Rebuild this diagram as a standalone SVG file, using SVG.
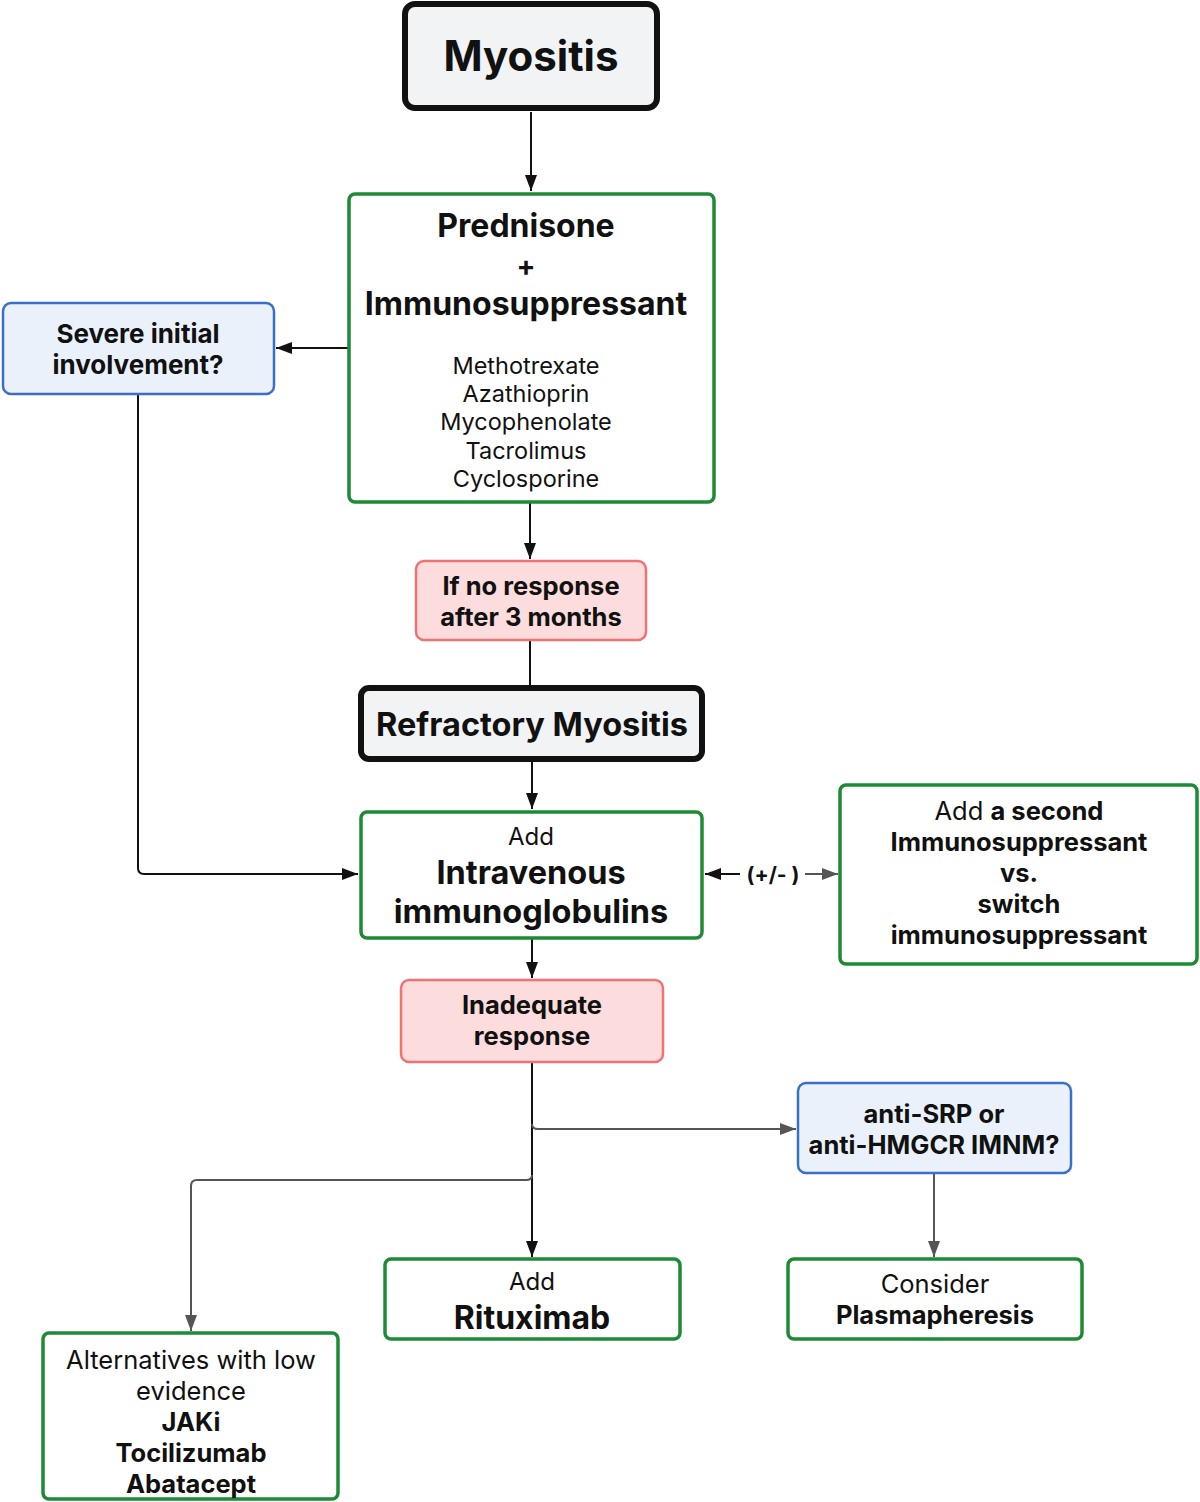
<svg xmlns="http://www.w3.org/2000/svg" width="1200" height="1502" viewBox="0 0 1200 1502">
<defs>
<style>
text{font-family:Inter,"Noto Sans","Liberation Sans",sans-serif;fill:#111;text-anchor:middle}
.b{font-weight:700}
.start{fill:#f2f3f5;stroke:#111;stroke-width:6}
.green{fill:#fff;stroke:#1e8a35;stroke-width:3.5}
.blue{fill:#eaf1fb;stroke:#3a6fc9;stroke-width:2.5}
.red{fill:#fcdcdc;stroke:#f07272;stroke-width:2.5}
.ln{fill:none;stroke:#111;stroke-width:2}
.gl{fill:none;stroke:#555;stroke-width:2}
</style>
<marker id="ahk" viewBox="0 0 16 12" refX="16" refY="6" markerWidth="16" markerHeight="12" markerUnits="userSpaceOnUse" orient="auto"><path d="M0,0L16,6L0,12z" fill="#111"/></marker>
<marker id="ahg" viewBox="0 0 16 12" refX="16" refY="6" markerWidth="16" markerHeight="12" markerUnits="userSpaceOnUse" orient="auto"><path d="M0,0L16,6L0,12z" fill="#555"/></marker>
</defs>
<rect width="1200" height="1502" fill="#fff"/>
<g id="connectors">
<path class="ln" d="M531,112V191" marker-end="url(#ahk)"/>
<path class="ln" d="M349,348H276" marker-end="url(#ahk)"/>
<path class="ln" d="M138,394V868Q138,874 144,874H358" marker-end="url(#ahk)"/>
<path class="ln" d="M530,503V559" marker-end="url(#ahk)"/>
<path class="ln" d="M530,641V687"/>
<path class="ln" d="M532,761V809" marker-end="url(#ahk)"/>
<path class="ln" d="M740,874H705" marker-end="url(#ahk)"/>
<path class="gl" d="M805,874H838" marker-end="url(#ahg)"/>
<path class="ln" d="M532,939V978" marker-end="url(#ahk)"/>
<path class="ln" d="M532,1063V1257" marker-end="url(#ahk)"/>
<path class="gl" d="M532,1124Q532,1129 538,1129H796" marker-end="url(#ahg)"/>
<path class="gl" d="M532,1175Q532,1180 526,1180H197Q191,1180 191,1186V1331" marker-end="url(#ahg)"/>
<path class="gl" d="M934,1174V1257" marker-end="url(#ahg)"/>
<text x="773" y="882" class="b" font-size="21">(+/- )</text>
</g>
<g id="myositis">
<rect class="start" x="405" y="4" width="252" height="104" rx="10"/>
<text x="531" y="71" class="b" font-size="42">Myositis</text>
</g>
<g id="prednisone">
<rect class="green" x="349" y="194" width="365" height="308" rx="6"/>
<text x="526" y="237" class="b" font-size="32">Prednisone</text>
<text x="526" y="276" class="b" font-size="28">+</text>
<text x="526" y="315" class="b" font-size="32">Immunosuppressant</text>
<text x="526" y="374" font-size="23.5">Methotrexate</text>
<text x="526" y="402" font-size="23.5">Azathioprin</text>
<text x="526" y="430" font-size="23.5">Mycophenolate</text>
<text x="526" y="459" font-size="23.5">Tacrolimus</text>
<text x="526" y="487" font-size="23.5">Cyclosporine</text>
</g>
<g id="severe">
<rect class="blue" x="3" y="303" width="271" height="91" rx="8"/>
<text x="138" y="343" class="b" font-size="26">Severe initial</text>
<text x="138" y="374" class="b" font-size="26">involvement?</text>
</g>
<g id="noresponse">
<rect class="red" x="416" y="561" width="230" height="79" rx="8"/>
<text x="531" y="595" class="b" font-size="25.5">If no response</text>
<text x="531" y="626" class="b" font-size="25.5">after 3 months</text>
</g>
<g id="refractory">
<rect class="start" x="361" y="688" width="341" height="71" rx="8"/>
<text x="532" y="736" class="b" font-size="32.5">Refractory Myositis</text>
</g>
<g id="ivig">
<rect class="green" x="361" y="812" width="341" height="126" rx="6"/>
<text x="531" y="845" font-size="24">Add</text>
<text x="531" y="884" class="b" font-size="32.5">Intravenous</text>
<text x="531" y="923" class="b" font-size="32.5">immunoglobulins</text>
</g>
<g id="second">
<rect class="green" x="840" y="785" width="357" height="179" rx="6"/>
<text x="1019" y="820" font-size="25.5">Add <tspan class="b">a second</tspan></text>
<text x="1019" y="851" class="b" font-size="25.5">Immunosuppressant</text>
<text x="1019" y="882" class="b" font-size="25.5">vs.</text>
<text x="1019" y="913" class="b" font-size="25.5">switch</text>
<text x="1019" y="944" class="b" font-size="25.5">immunosuppressant</text>
</g>
<g id="inadequate">
<rect class="red" x="401" y="980" width="262" height="82" rx="8"/>
<text x="532" y="1014" class="b" font-size="25.5">Inadequate</text>
<text x="532" y="1045" class="b" font-size="25.5">response</text>
</g>
<g id="antisrp">
<rect class="blue" x="798" y="1083" width="273" height="90" rx="8"/>
<text x="934" y="1123" class="b" font-size="25.5">anti-SRP or</text>
<text x="934" y="1154" class="b" font-size="25.5">anti-HMGCR IMNM?</text>
</g>
<g id="rituximab">
<rect class="green" x="385" y="1259" width="295" height="80" rx="6"/>
<text x="532" y="1290" font-size="24">Add</text>
<text x="532" y="1329" class="b" font-size="32">Rituximab</text>
</g>
<g id="plasmapheresis">
<rect class="green" x="788" y="1259" width="294" height="80" rx="6"/>
<text x="935" y="1293" font-size="25.5">Consider</text>
<text x="935" y="1324" class="b" font-size="25.5">Plasmapheresis</text>
</g>
<g id="alternatives">
<rect class="green" x="43" y="1333" width="295" height="166" rx="6"/>
<text x="191" y="1369" font-size="25.5">Alternatives with low</text>
<text x="191" y="1400" font-size="25.5">evidence</text>
<text x="191" y="1431" class="b" font-size="25.5">JAKi</text>
<text x="191" y="1462" class="b" font-size="25.5">Tocilizumab</text>
<text x="191" y="1493" class="b" font-size="25.5">Abatacept</text>
</g>
</svg>
